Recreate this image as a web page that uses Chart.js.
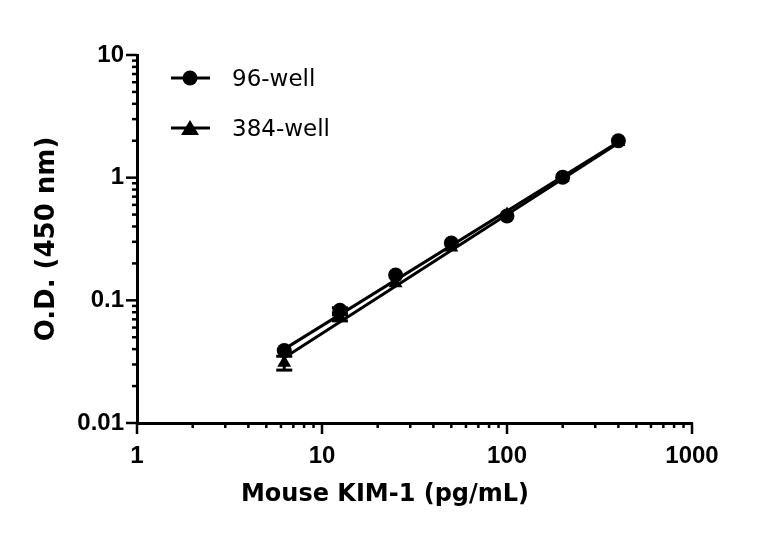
<!DOCTYPE html>
<html><head><meta charset="utf-8">
<script src="https://cdn.jsdelivr.net/npm/chart.js@4/dist/chart.umd.min.js"></script>
<style>html,body{margin:0;padding:0;background:#fff}#wrap{width:768px;height:534px}</style>
</head><body><div id="wrap"><canvas id="c" width="768" height="534"></canvas></div>
<script>
const concentrations = [6.25, 12.5, 25, 50, 100, 200, 400];
const od96  = [0.039, 0.083, 0.161, 0.293, 0.487, 1.01, 2.0];
const od384 = [0.031, 0.072, 0.138, 0.270, 0.50, 1.0, 1.95];
const err96  = [0, 0.004, 0, 0, 0, 0, 0];
const err384 = [0.004, 0.004, 0, 0, 0, 0, 0];
const fitX   = [6.25, 400];
const fit96  = [0.040, 1.95];
const fit384 = [0.034, 1.92];
const xTicks = [1, 10, 100, 1000];
const xTickLabels = ['1', '10', '100', '1000'];
const yTicks = [0.01, 0.1, 1, 10];
const yTickLabels = ['0.01', '0.1', '1', '10'];
const minorMultipliers = [2, 3, 4, 5, 6, 7, 8, 9];
const seriesNames = ['96-well', '384-well'];
const xTitle = 'Mouse KIM-1 (pg/mL)';
const yTitle = 'O.D. (450 nm)';

const pts = (xs, ys) => xs.map((x, i) => ({x: x, y: ys[i]}));

const axisPlugin = {
  id: 'axisTicks',
  afterDraw(chart) {
    const ctx = chart.ctx, xs = chart.scales.x, ys = chart.scales.y, a = chart.chartArea;
    ctx.save();
    ctx.strokeStyle = '#000';
    ctx.lineWidth = 2.5;
    ctx.lineCap = 'butt';
    const line = (x1, y1, x2, y2) => { ctx.beginPath(); ctx.moveTo(x1, y1); ctx.lineTo(x2, y2); ctx.stroke(); };
    xTicks.forEach((d, i) => {
      const p = xs.getPixelForValue(d);
      line(p, a.bottom, p, a.bottom + 11);
      if (i < xTicks.length - 1) minorMultipliers.forEach(m => {
        const q = xs.getPixelForValue(d * m);
        line(q, a.bottom, q, a.bottom + 5);
      });
    });
    yTicks.forEach((d, i) => {
      const p = ys.getPixelForValue(d);
      line(a.left, p, a.left - 11, p);
      if (i < yTicks.length - 1) minorMultipliers.forEach(m => {
        const q = ys.getPixelForValue(d * m);
        line(a.left, q, a.left - 5, q);
      });
    });
    // x axis title (centred on the page like the reference)
    ctx.fillStyle = '#000';
    ctx.font = 'bold 24px "DejaVu Sans"';
    ctx.textAlign = 'center';
    ctx.textBaseline = 'alphabetic';
    ctx.fillText(xTitle, 385, 501);
    ctx.restore();
  },
  afterDatasetsDraw(chart) {
    const ctx = chart.ctx, xs = chart.scales.x, ys = chart.scales.y;
    ctx.save();
    ctx.strokeStyle = '#000';
    ctx.lineWidth = 3;
    [[od96, err96], [od384, err384]].forEach(([vals, errs]) => {
      vals.forEach((v, i) => {
        const e = errs[i];
        if (!e) return;
        const px = xs.getPixelForValue(concentrations[i]);
        const lo = ys.getPixelForValue(v - e), hi = ys.getPixelForValue(v + e);
        ctx.beginPath(); ctx.moveTo(px, lo); ctx.lineTo(px, hi); ctx.stroke();
        ctx.beginPath(); ctx.moveTo(px - 8, lo); ctx.lineTo(px + 8, lo); ctx.stroke();
        ctx.beginPath(); ctx.moveTo(px - 8, hi); ctx.lineTo(px + 8, hi); ctx.stroke();
      });
    });
    // legend
    const rows = [{y: 78, style: 'circle'}, {y: 128, style: 'triangle'}];
    rows.forEach((r, i) => {
      ctx.lineWidth = 3;
      ctx.beginPath(); ctx.moveTo(171, r.y); ctx.lineTo(210, r.y); ctx.stroke();
      ctx.fillStyle = '#000';
      ctx.beginPath();
      if (r.style === 'circle') {
        ctx.arc(190, r.y, 7.5, 0, Math.PI * 2);
      } else {
        ctx.moveTo(190, r.y - 8); ctx.lineTo(199, r.y + 7); ctx.lineTo(181, r.y + 7); ctx.closePath();
      }
      ctx.fill();
      ctx.font = '23px "DejaVu Sans"';
      ctx.textBaseline = 'alphabetic';
      ctx.textAlign = 'left';
      ctx.fillText(seriesNames[i], 232, r.y + 8);
    });
    ctx.restore();
  }
};

new Chart(document.getElementById('c'), {
  type: 'scatter',
  data: {
    datasets: [
      {label: seriesNames[0] + ' fit', data: pts(fitX, fit96), showLine: true, borderColor: '#000', borderWidth: 3, pointRadius: 0},
      {label: seriesNames[1] + ' fit', data: pts(fitX, fit384), showLine: true, borderColor: '#000', borderWidth: 3, pointRadius: 0},
      {label: seriesNames[1], data: pts(concentrations, od384), showLine: false, pointStyle: 'triangle', pointRadius: 8, backgroundColor: '#000', borderColor: '#000', borderWidth: 0},
      {label: seriesNames[0], data: pts(concentrations, od96), showLine: false, pointStyle: 'circle', pointRadius: 7.5, backgroundColor: '#000', borderColor: '#000', borderWidth: 0}
    ]
  },
  options: {
    responsive: false,
    animation: false,
    devicePixelRatio: 1,
    layout: {padding: {left: 0, top: 55, right: 76, bottom: 0}},
    plugins: {legend: {display: false}, tooltip: {enabled: false}},
    scales: {
      x: {
        type: 'logarithmic', min: 1, max: 1000,
        afterBuildTicks(s) { s.ticks = xTicks.map(v => ({value: v})); },
        afterFit(s) { s.height = 111; },
        grid: {display: false, drawTicks: false},
        border: {display: true, color: '#000', width: 3},
        ticks: {
          autoSkip: false, maxRotation: 0, padding: 19, color: '#000',
          font: {family: '"Liberation Sans", Arial', weight: 'bold', size: 24},
          callback: (v, i) => xTickLabels[i]
        },
        title: {display: false, text: xTitle}
      },
      y: {
        type: 'logarithmic', min: 0.01, max: 10,
        afterBuildTicks(s) { s.ticks = yTicks.map(v => ({value: v})); },
        afterFit(s) { s.width = 137; },
        grid: {display: false, drawTicks: false},
        border: {display: true, color: '#000', width: 3},
        ticks: {
          autoSkip: false, padding: 13, color: '#000',
          font: {family: '"Liberation Sans", Arial', weight: 'bold', size: 24},
          callback: (v, i) => yTickLabels[i]
        },
        title: {display: true, text: yTitle, color: '#000',
          font: {family: '"DejaVu Sans"', weight: 'bold', size: 26}, padding: {top: 32, bottom: 0}}
      }
    }
  },
  plugins: [axisPlugin]
});
</script>
</body></html>
